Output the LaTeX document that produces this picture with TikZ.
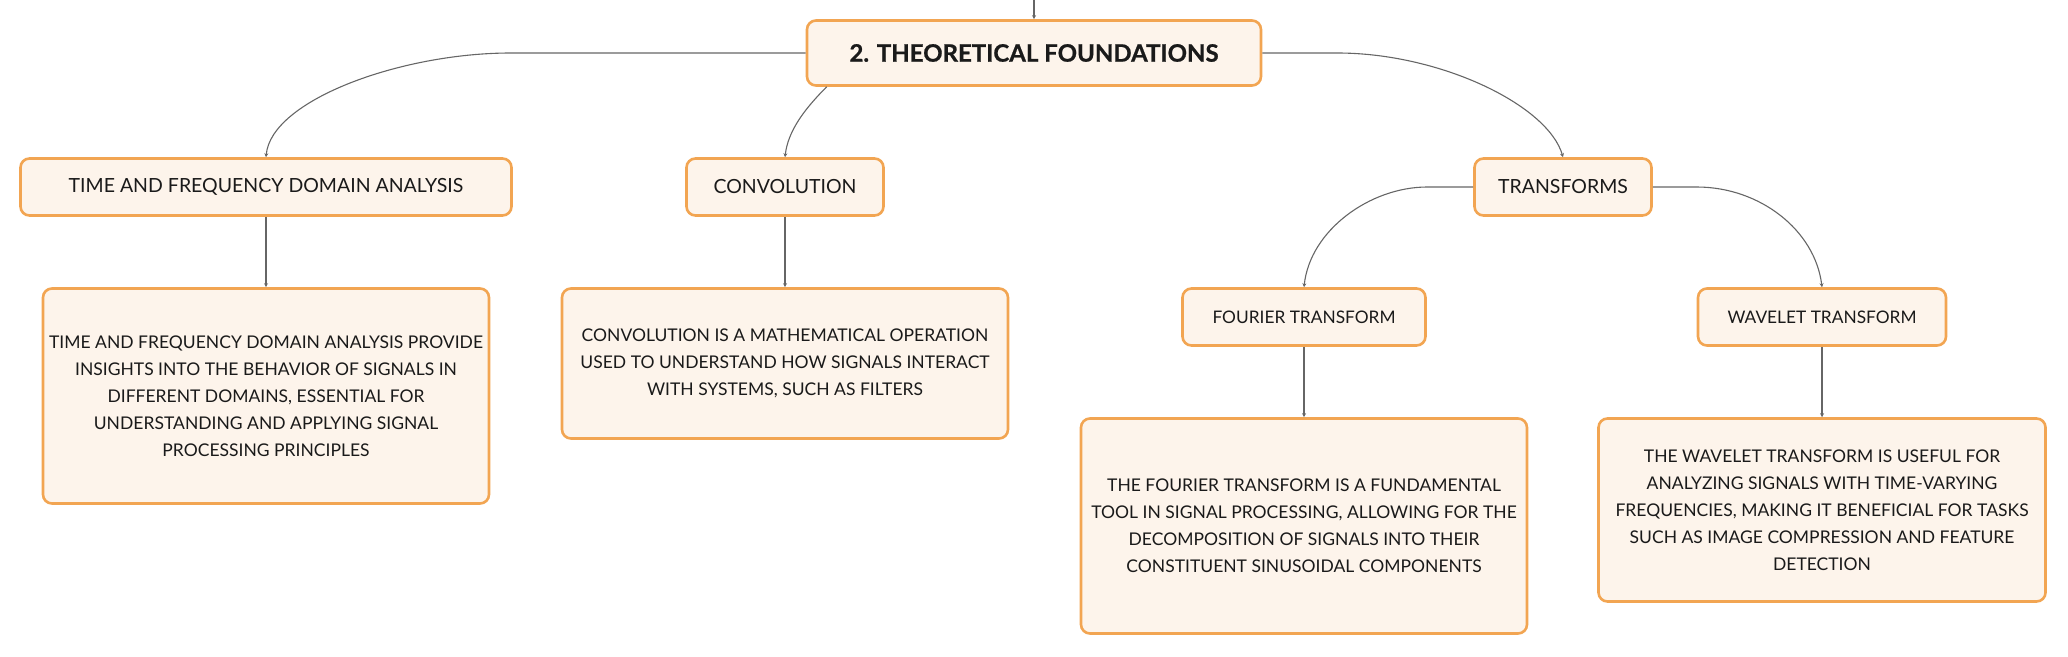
\documentclass[tikz,border=0pt]{standalone}
\usepackage{fontspec}
\setmainfont{Lato}
\newfontfamily\titlefont{Lato}[BoldFeatures={FakeBold=0.8}]
\usetikzlibrary{arrows.meta}
\definecolor{boxline}{HTML}{F2A552}
\definecolor{boxfill}{HTML}{FDF4EB}
\definecolor{linkgray}{HTML}{666666}
\definecolor{ink}{HTML}{1A1A1A}

\begin{document}
\begin{tikzpicture}[x=1pt,y=-1pt,
    box/.style={draw=boxline,fill=boxfill,line width=2.6pt,rounded corners=9pt,text=ink,align=center,inner sep=0pt},
    head/.style={box,minimum height=57pt,font=\fontsize{19.5}{27}\selectfont},
    sub/.style={box,minimum height=57pt,font=\fontsize{17.3}{27}\selectfont},
    note/.style={box,font=\fontsize{17.5}{27}\selectfont},
    link/.style={draw=linkgray,line width=1.1pt,-{Stealth[length=4pt,width=4pt]}}]
        \useasboundingbox (0,0) rectangle (2068,656);

            \node[box,minimum width=454pt,minimum height=65pt,font=\fontsize{24}{29}\titlefont\bfseries] (title) at (1034,53) {2. THEORETICAL FOUNDATIONS};

            \node[head,minimum width=491pt] (tfda) at (266,187) {TIME AND FREQUENCY DOMAIN ANALYSIS};
            \node[head,minimum width=197pt] (conv) at (785,187) {CONVOLUTION};
            \node[head,minimum width=177pt] (trans) at (1563,187) {TRANSFORMS};
            \node[sub,minimum width=243pt] (fourier) at (1304,317) {FOURIER TRANSFORM};
            \node[sub,minimum width=248pt] (wavelet) at (1822,317) {WAVELET TRANSFORM};

            \node[note,minimum width=446pt,minimum height=215pt] (tfdanote) at (266,396) {TIME AND FREQUENCY DOMAIN ANALYSIS PROVIDE\\INSIGHTS INTO THE BEHAVIOR OF SIGNALS IN\\DIFFERENT DOMAINS, ESSENTIAL FOR\\UNDERSTANDING AND APPLYING SIGNAL\\PROCESSING PRINCIPLES};
            \node[note,minimum width=446pt,minimum height=150pt] (convnote) at (785,363.5) {CONVOLUTION IS A MATHEMATICAL OPERATION\\USED TO UNDERSTAND HOW SIGNALS INTERACT\\WITH SYSTEMS, SUCH AS FILTERS};
            \node[note,minimum width=446pt,minimum height=215pt] (fouriernote) at (1304,526) {THE FOURIER TRANSFORM IS A FUNDAMENTAL\\TOOL IN SIGNAL PROCESSING, ALLOWING FOR THE\\DECOMPOSITION OF SIGNALS INTO THEIR\\CONSTITUENT SINUSOIDAL COMPONENTS};
            \node[note,minimum width=447pt,minimum height=183pt] (waveletnote) at (1822,510) {THE WAVELET TRANSFORM IS USEFUL FOR\\ANALYZING SIGNALS WITH TIME-VARYING\\FREQUENCIES, MAKING IT BENEFICIAL FOR TASKS\\SUCH AS IMAGE COMPRESSION AND FEATURE\\DETECTION};

            \coordinate (top) at (1034,0);
        \draw[link] (top) -- (title.north);
        \draw[link] (title.west) -- ++(-295,0) .. controls +(-110,0) and +(5,-57) .. (tfda.north);
        \draw[link] ([xshift=21pt]title.south west) .. controls +(-21,21) and +(3,-27) .. (conv.north);
        \draw[link] (title.east) -- ++(75,0) .. controls +(103,0) and +(-15,-52) .. (trans.north);
        \draw[link] (trans.west) -- ++(-46,0) .. controls +(-57,0) and +(6,-57) .. (fourier.north);
        \draw[link] (trans.east) -- ++(44,0) .. controls +(63,0) and +(-7,-57) .. (wavelet.north);
        \draw[link] (tfda.south) -- (tfdanote.north);
        \draw[link] (conv.south) -- (convnote.north);
        \draw[link] (fourier.south) -- (fouriernote.north);
        \draw[link] (wavelet.south) -- (waveletnote.north);
    \end{tikzpicture}
\end{document}
